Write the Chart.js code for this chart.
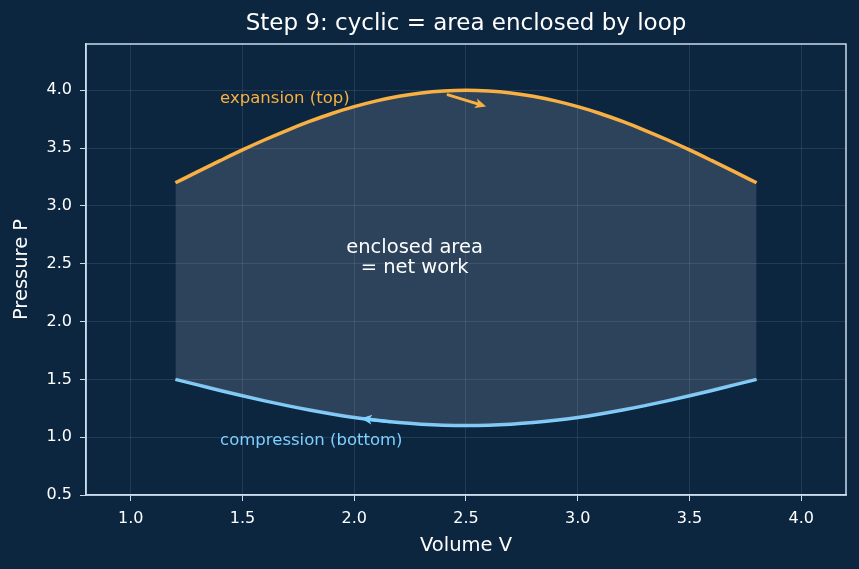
<!DOCTYPE html>
<html>
<head>
<meta charset="utf-8">
<script src="https://cdn.jsdelivr.net/npm/chart.js@4/dist/chart.umd.min.js"></script>
<style>
  html, body { margin: 0; padding: 0; background: #0c2640; }
  #wrap { width: 859px; height: 569px; }
</style>
</head>
<body>
<div id="wrap"><canvas id="pv-chart"></canvas></div>
<script>
// volume values along the loop
let volume = [1.2, 1.3, 1.4, 1.5, 1.6, 1.7, 1.8, 1.9, 2.0, 2.1, 2.2, 2.3, 2.4, 2.5,
  2.6, 2.7, 2.8, 2.9, 3.0, 3.1, 3.2, 3.3, 3.4, 3.5, 3.6, 3.7, 3.8];

// expansion branch (top)
let topPressure = [3.200, 3.296, 3.391, 3.484, 3.572, 3.654, 3.730, 3.799, 3.858, 3.908, 3.948, 3.977, 3.994, 4.000,
  3.994, 3.977, 3.948, 3.908, 3.858, 3.799, 3.730, 3.654, 3.572, 3.484, 3.391, 3.296, 3.200];

// compression branch (bottom)
let bottomPressure = [1.500, 1.452, 1.404, 1.358, 1.314, 1.273, 1.235, 1.201, 1.171, 1.146, 1.126, 1.112, 1.103, 1.100,
  1.103, 1.112, 1.126, 1.146, 1.171, 1.201, 1.235, 1.273, 1.314, 1.358, 1.404, 1.452, 1.500];

let xTicks = [1.0, 1.5, 2.0, 2.5, 3.0, 3.5, 4.0];
let yTicks = [0.5, 1.0, 1.5, 2.0, 2.5, 3.0, 3.5, 4.0];

// direction arrows: [fromV, fromP, toV, toP]
let expansionArrow = [2.42, 3.96, 2.59, 3.86];
let compressionArrow = [2.16, 1.134, 2.03, 1.163];

let orange = "#f9b043";
let blue = "#7fcfff";
let frameColor = "#c9dcee";
let textColor = "#ffffff";
let font = "'DejaVu Sans', sans-serif";

function toPoints(xs, ys) {
  return xs.map(function (x, i) { return { x: x, y: ys[i] }; });
}

function drawArrow(ctx, x1, y1, x2, y2, color) {
  let ang = Math.atan2(y2 - y1, x2 - x1);
  let head = 12;
  ctx.save();
  ctx.strokeStyle = color;
  ctx.fillStyle = color;
  ctx.lineWidth = 3;
  ctx.lineCap = "round";
  ctx.beginPath();
  ctx.moveTo(x1, y1);
  ctx.lineTo(x2 - Math.cos(ang) * head * 0.6, y2 - Math.sin(ang) * head * 0.6);
  ctx.stroke();
  ctx.beginPath();
  ctx.moveTo(x2, y2);
  ctx.lineTo(x2 - head * Math.cos(ang - 0.42), y2 - head * Math.sin(ang - 0.42));
  ctx.lineTo(x2 - head * 0.7 * Math.cos(ang), y2 - head * 0.7 * Math.sin(ang));
  ctx.lineTo(x2 - head * Math.cos(ang + 0.42), y2 - head * Math.sin(ang + 0.42));
  ctx.closePath();
  ctx.fill();
  ctx.restore();
}

// draws the frame, titles, notes and arrows
let extrasPlugin = {
  id: "extras",
  afterDatasetsDraw: function (chart) {
    let ctx = chart.ctx;
    let xs = chart.scales.x;
    let ys = chart.scales.y;
    let area = chart.chartArea;

    let a = expansionArrow;
    drawArrow(ctx, xs.getPixelForValue(a[0]), ys.getPixelForValue(a[1]),
      xs.getPixelForValue(a[2]), ys.getPixelForValue(a[3]), orange);
    a = compressionArrow;
    drawArrow(ctx, xs.getPixelForValue(a[0]), ys.getPixelForValue(a[1]),
      xs.getPixelForValue(a[2]), ys.getPixelForValue(a[3]), blue);

    ctx.save();
    ctx.textBaseline = "middle";
    ctx.font = "16.5px " + font;
    ctx.fillStyle = orange;
    ctx.textAlign = "left";
    ctx.fillText("expansion (top)", xs.getPixelForValue(1.4), ys.getPixelForValue(3.93));
    ctx.fillStyle = blue;
    ctx.fillText("compression (bottom)", xs.getPixelForValue(1.4), ys.getPixelForValue(0.97));

    ctx.font = "19.5px " + font;
    ctx.fillStyle = textColor;
    ctx.textAlign = "center";
    let cx = xs.getPixelForValue(2.27);
    ctx.fillText("enclosed area", cx, ys.getPixelForValue(2.64));
    ctx.fillText("= net work", cx, ys.getPixelForValue(2.46));

    // title
    let midX = (area.left + area.right) / 2;
    ctx.font = "23px " + font;
    ctx.fillText("Step 9: cyclic = area enclosed by loop", midX, 24);

    // axis titles
    ctx.font = "19.5px " + font;
    ctx.fillText("Volume V", midX, 546);
    ctx.translate(22, (area.top + area.bottom) / 2);
    ctx.rotate(-Math.PI / 2);
    ctx.fillText("Pressure P", 0, 0);
    ctx.restore();

    // frame around plot area
    ctx.save();
    ctx.strokeStyle = frameColor;
    ctx.lineWidth = 1.5;
    ctx.strokeRect(area.left, area.top, area.right - area.left, area.bottom - area.top);
    ctx.restore();
  },
};

let context = document.querySelector("#pv-chart").getContext("2d");

let pvChart = new Chart(context, {
  type: "line",
  data: {
    datasets: [
      {
        label: "expansion",
        data: toPoints(volume, topPressure),
        borderColor: orange,
        borderWidth: 3.5,
        pointRadius: 0,
        cubicInterpolationMode: "monotone",
        fill: { target: "+1" },
        backgroundColor: "rgba(150, 165, 180, 0.24)",
      },
      {
        label: "compression",
        data: toPoints(volume, bottomPressure),
        borderColor: blue,
        borderWidth: 3.5,
        pointRadius: 0,
        cubicInterpolationMode: "monotone",
        fill: false,
      },
    ],
  },
  options: {
    responsive: true,
    maintainAspectRatio: false,
    animation: false,
    layout: { padding: { top: 44, right: 13, left: 0, bottom: 0 } },
    plugins: {
      legend: { display: false },
      tooltip: { enabled: false },
    },
    scales: {
      x: {
        type: "linear",
        min: 0.8,
        max: 4.2,
        afterBuildTicks: function (scale) {
          scale.ticks = xTicks.map(function (v) { return { value: v }; });
        },
        afterFit: function (scale) { scale.height = 74; },
        ticks: {
          color: textColor,
          font: { family: font, size: 16 },
          padding: 8,
          maxRotation: 0,
          callback: function (v) { return v.toFixed(1); },
        },
        grid: { color: "rgba(255,255,255,0.1)", tickColor: frameColor, tickLength: 6 },
        border: { color: frameColor, width: 1.5 },
      },
      y: {
        type: "linear",
        min: 0.5,
        max: 4.4,
        afterBuildTicks: function (scale) {
          scale.ticks = yTicks.map(function (v) { return { value: v }; });
        },
        afterFit: function (scale) { scale.width = 86; },
        ticks: {
          color: textColor,
          font: { family: font, size: 16 },
          padding: 8,
          callback: function (v) { return v.toFixed(1); },
        },
        grid: { color: "rgba(255,255,255,0.1)", tickColor: frameColor, tickLength: 6 },
        border: { color: frameColor, width: 1.5 },
      },
    },
  },
  plugins: [extrasPlugin],
});
</script>
</body>
</html>
